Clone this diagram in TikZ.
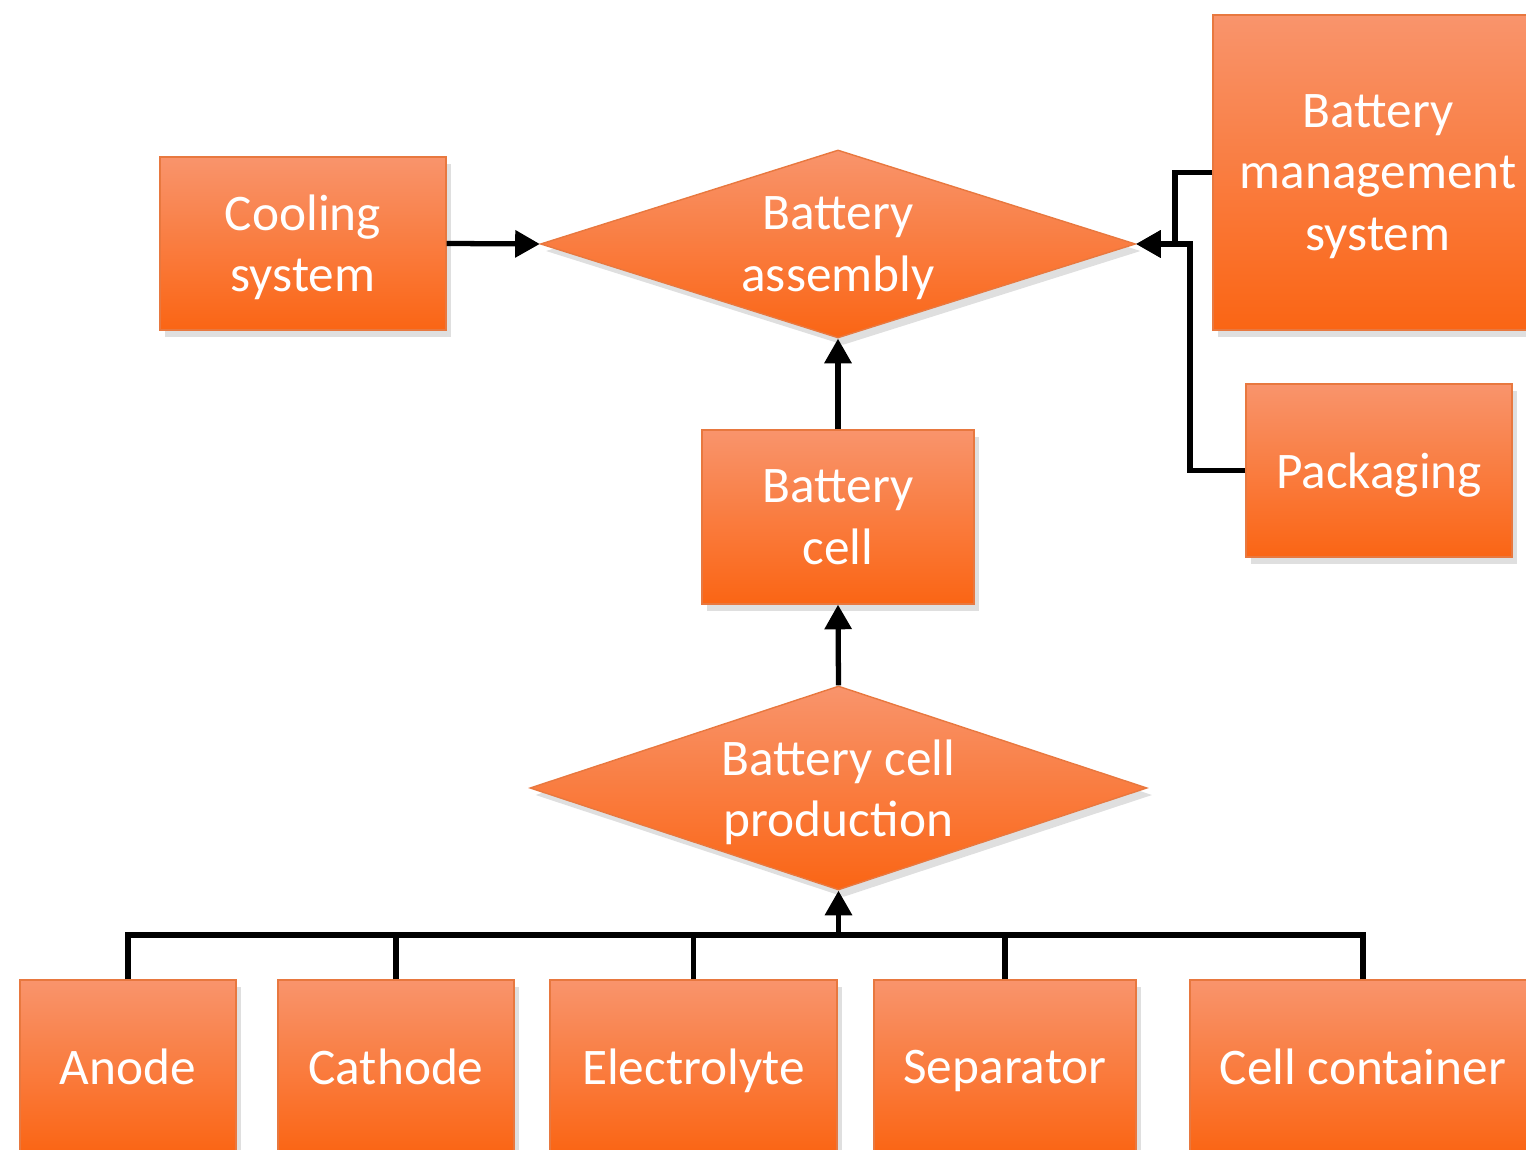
\documentclass[tikz,border=0pt]{standalone}
\usepackage{fontspec}
\setmainfont{Carlito}
\usetikzlibrary{shapes.geometric,arrows.meta,shadows}

\definecolor{boxtop}{HTML}{F9946C}
\definecolor{boxbottom}{HTML}{FA6514}
\definecolor{boxedge}{HTML}{E8783F}

\tikzset{
    part/.style={rectangle, draw=boxedge, line width=0.4pt,
        top color=boxtop, bottom color=boxbottom,
        drop shadow={opacity=0.25, shadow xshift=1.5pt, shadow yshift=-2pt},
        text=white, align=center, inner sep=0pt, text depth=0pt,
        font=\fontsize{14.6}{17.4}\selectfont},
    stage/.style={part, diamond, aspect=3.1},
    link/.style={line width=1.5pt, black},
    flow/.style={link, -{Triangle[length=7pt,width=7.5pt]}}
}

\begin{document}
\begin{tikzpicture}
    
    % ================= FRAME =================
    \useasboundingbox (0,0) rectangle (15.26,-11.50);
    \clip (0,0) rectangle (15.26,-11.50);
    
    % ================= TOP ROW =================
    \node[part, minimum width=2.86cm, minimum height=1.73cm] (cooling) at (3.03,-2.435) {Cooling\\system};
    \node[stage, minimum width=5.95cm, minimum height=1.88cm] (assembly) at (8.38,-2.44) {Battery\\assembly};
    \node[part, minimum width=3.30cm, minimum height=3.15cm] (bms) at (13.78,-1.725) {Battery\\management\\system};
    \node[part, minimum width=2.66cm, minimum height=1.73cm] (packaging) at (13.79,-4.705) {Packaging};
    
    % ================= MIDDLE =================
    \node[part, minimum width=2.72cm, minimum height=1.74cm] (cell) at (8.38,-5.17) {Battery\\cell};
    \node[stage, minimum width=6.17cm, minimum height=2.04cm] (production) at (8.385,-7.88) {Battery cell\\production};
    
    % ================= BOTTOM ROW =================
    \node[part, minimum width=2.16cm, minimum height=1.73cm] (anode) at (1.28,-10.665) {Anode};
    \node[part, minimum width=2.36cm, minimum height=1.73cm] (cathode) at (3.96,-10.665) {Cathode};
    \node[part, minimum width=2.87cm, minimum height=1.73cm] (electrolyte) at (6.935,-10.665) {Electrolyte};
    \node[part, minimum width=2.62cm, minimum height=1.73cm] (separator) at (10.05,-10.665) {Separator};
    \node[part, minimum width=3.46cm, minimum height=1.73cm] (container) at (13.63,-10.665) {Cell container};
    
    % Joints of the connectors
    \coordinate (bus) at (8.385,-9.35);
    \coordinate (bmsjoint) at (11.75,-2.44);
    \coordinate (packjoint) at (11.90,-2.44);
    
    % ================= CONNECTORS =================
    \draw[flow] (cooling.east) -- (assembly.west);
    \draw[flow] (bms.west) -| (bmsjoint) -- (assembly.east);
    \draw[flow] (packaging.west) -| (packjoint) -- (assembly.east);
    \draw[flow] (cell.north) -- (assembly.south);
    \draw[flow] (production.north) -- (cell.south);
    
    % Materials feed the cell production
    \draw[link] (anode.north) |- (bus);
    \draw[link] (cathode.north) |- (bus);
    \draw[link] (electrolyte.north) |- (bus);
    \draw[link] (separator.north) |- (bus);
    \draw[link] (container.north) |- (bus);
    \draw[flow] (bus) -- (production.south);
    
\end{tikzpicture}
\end{document}
